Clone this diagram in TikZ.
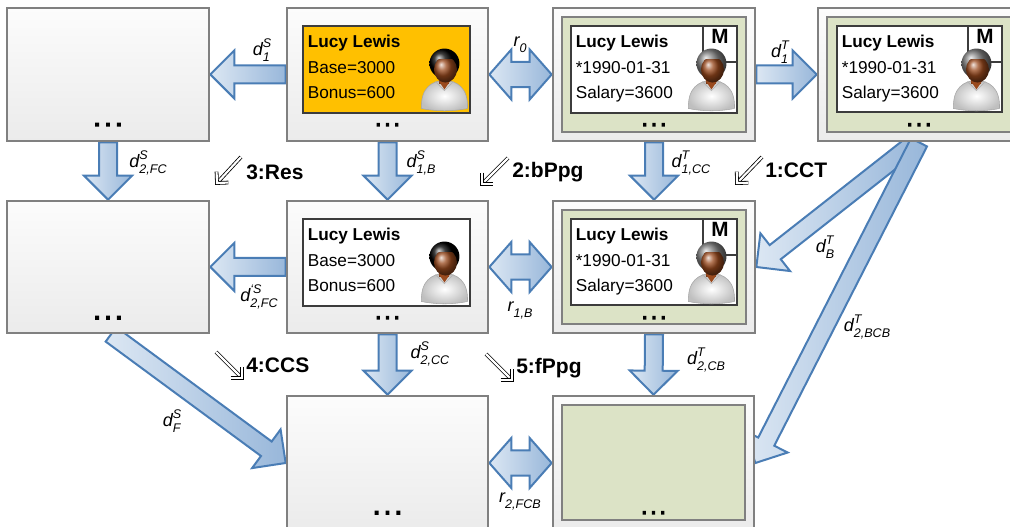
\documentclass[tikz,border=0pt]{standalone}
\usepackage{fontspec}
\setmainfont{Liberation Sans}
\newfontfamily\dotfont[FakeBold=12]{Liberation Sans}
\usetikzlibrary{calc,fit,backgrounds}

\definecolor{boxline}{HTML}{808080}
\definecolor{boxtop}{HTML}{FCFCFC}
\definecolor{boxbot}{HTML}{EBEBEB}
\definecolor{greenfill}{HTML}{DCE3C6}
\definecolor{panelline}{HTML}{3C3C3C}
\definecolor{orangefill}{HTML}{FFC000}
\definecolor{arlight}{HTML}{DCE7F3}
\definecolor{ardark}{HTML}{98B7DA}
\definecolor{arline}{HTML}{4A7DB5}
\definecolor{skin}{HTML}{9A4A1E}

% small font for indices of the arrow labels
\newcommand\lblsmall{\fontsize{9.4}{10}\selectfont}
% base letter with stacked superscript #2 and subscript #3
\newcommand\dlab[3]{#1\sbox0{\lblsmall #2}\sbox2{\lblsmall #3}%
  \raisebox{0.45em}{\usebox0}\kern-\wd0\raisebox{-0.33em}{\usebox2}%
  \ifdim\wd0>\wd2 \kern\dimexpr\wd0-\wd2\relax\fi}
% base letter with subscript only
\newcommand\rlab[2]{#1\raisebox{-0.33em}{\lblsmall #2}}
% heavy, widely spaced ellipsis
\newcommand\ddd[1]{.\kern#1.\kern#1.}

% one-headed block arrow from #1 to #2
\newcommand\blockarrow[2]{%
  \coordinate (bh) at ($(#2)!18pt!(#1)$);
  \path[blockarrow] ($(#1)!6.75pt!90:(#2)$) -- ($(bh)!6.75pt!90:(#2)$)
    -- ($(bh)!18pt!90:(#2)$) -- (#2) -- ($(bh)!18pt!-90:(#2)$)
    -- ($(bh)!6.75pt!-90:(#2)$) -- ($(#1)!6.75pt!-90:(#2)$) -- cycle;}
% two-headed block arrow between #1 and #2
\newcommand\dblockarrow[2]{%
  \coordinate (ha) at ($(#1)!16.5pt!(#2)$);
  \coordinate (hb) at ($(#2)!16.5pt!(#1)$);
  \path[blockarrow] (#1) -- ($(ha)!18.75pt!90:(#2)$) -- ($(ha)!9.4pt!90:(#2)$)
    -- ($(hb)!9.4pt!90:(#2)$) -- ($(hb)!18.75pt!90:(#2)$) -- (#2)
    -- ($(hb)!18.75pt!-90:(#2)$) -- ($(hb)!9.4pt!-90:(#2)$)
    -- ($(ha)!9.4pt!-90:(#2)$) -- ($(ha)!18.75pt!-90:(#2)$) -- cycle;}
% thin double-stroke step marker, tail #1, tip #2
\newcommand\stepmark[2]{%
  \draw[stepline, double] (#1) -- ($(#2)!3pt!(#1)$);
  \draw[stepline] ($(#2)!8.5pt!45:(#1)$) -- (#2) -- ($(#2)!8.5pt!-45:(#1)$);}

% person icon; #1 is the hair colour
\newcommand\personicon[1]{%
  \path[draw=gray!70, line width=0.4pt, inner color=white, outer color=gray!50]
    (-23,28) .. controls (-24,7) and (-12,0) .. (0,0)
    .. controls (12,0) and (24,7) .. (23,28)
    .. controls (8,31) and (-8,31) .. (-23,28) -- cycle;
  \fill[skin!80!black] (-5,-8) rectangle (5,3);
  \fill[skin] (-6,0) -- (0,9) -- (6,0) -- cycle;
  \draw[gray!60, line width=0.5pt] (-9,1) -- (0,10) -- (9,1);
  \shade[ball color=#1] (0,-17) circle[radius=15];
  \begin{scope}
    \clip (-20,-21) rectangle (20,5);
    \shade[ball color=skin] (1,-11) ellipse[x radius=11.5, y radius=13];
  \end{scope}}

\tikzset{
  person/.pic={\personicon{black}},
  mperson/.pic={\personicon{gray}},
  outerbox/.style={draw=boxline, line width=2pt, top color=boxtop, bottom color=boxbot, inner sep=0pt},
  greenbox/.style={draw=boxline, line width=1.5pt, fill=greenfill, inner sep=0pt},
  panel/.style={draw=panelline, line width=2.2pt, fill=white, inner sep=0pt},
  orangepanel/.style={panel, fill=orangefill},
  mbox/.style={draw=panelline, line width=1.6pt, fill=white, inner sep=0pt, font=\bfseries\fontsize{15.5}{15.5}\selectfont},
  ptext/.style={font=\fontsize{12.9}{14}\selectfont, inner sep=0pt, anchor=base west},
  dots/.style={font=\dotfont\fontsize{12}{12}\selectfont, inner sep=0pt, anchor=base},
  bigdots/.style={font=\dotfont\fontsize{13.5}{13.5}\selectfont, inner sep=0pt, anchor=base},
  steplab/.style={font=\bfseries\fontsize{15.75}{16}\selectfont, inner sep=0pt, anchor=west},
  stepline/.style={line width=0.6pt, black, double distance=1.6pt, line cap=butt},
  arrlab/.style={font=\itshape\fontsize{13.5}{14}\selectfont, inner sep=0pt},
  blockarrow/.style={draw=arline, line width=1.5pt, line join=miter, left color=arlight, right color=ardark},
}

\begin{document}
\begin{tikzpicture}[x=0.75pt, y=-0.75pt]
\useasboundingbox (0,0) rectangle (1010,527);

% ---------- outer frames ----------
\node[outerbox, fit={(7,8)(209,141)}] (A) {};
\node[outerbox, fit={(287,8)(488,141)}] (B) {};
\node[outerbox, fit={(553,8)(755,141)}] (C) {};
\node[outerbox, fit={(818,8)(1020,141)}] (D) {};
\node[outerbox, fit={(7,201)(209,333)}] (E) {};
\node[outerbox, fit={(287,201)(488,333)}] (F) {};
\node[outerbox, fit={(553,201)(755,333)}] (G) {};
\node[outerbox, fit={(287,396)(488,530)}] (H) {};
\node[outerbox, fit={(553,396)(754,530)}] (I) {};

% ---------- green inner frames ----------
\node[greenbox, fit={(562,17)(746,132)}] (Cg) {};
\node[greenbox, fit={(827,17)(1011,132)}] (Dg) {};
\node[greenbox, fit={(562,210)(746,324)}] (Gg) {};
\node[greenbox, fit={(562,405)(745,520)}] (Ig) {};

% ---------- dots ----------
\node[bigdots] (Adots) at ($(A.north)+(0,119)$) {\ddd{4.4pt}};
\node[dots] (Bdots) at ($(B.north)+(0,119)$) {\ddd{3.6pt}};
\node[dots] (Cdots) at ($(C.north)+(0,119)$) {\ddd{3.6pt}};
\node[dots] (Ddots) at ($(D.north)+(0,119)$) {\ddd{3.6pt}};
\node[bigdots] (Edots) at ($(E.north)+(0,119)$) {\ddd{4.4pt}};
\node[dots] (Fdots) at ($(F.north)+(0,119)$) {\ddd{3.6pt}};
\node[dots] (Gdots) at ($(G.north)+(0,119)$) {\ddd{3.6pt}};
\node[bigdots] (Hdots) at ($(H.north)+(0,119)$) {\ddd{4.4pt}};
\node[dots] (Idots) at ($(I.north)+(0,119)$) {\ddd{3.6pt}};

% ---------- source records ----------
\node[orangepanel, fit={(303,26)(470,113)}] (pB) {};
\node[ptext] (pB1) at ($(pB.north west)+(6,23)$) {\textbf{Lucy Lewis}};
\node[ptext] (pB2) at ($(pB.north west)+(6,49)$) {Base=3000};
\node[ptext] (pB3) at ($(pB.north west)+(6,74)$) {Bonus=600};
\pic at ($(pB.north east)+(-27,56)$) {person};

\node[panel, fit={(303,219)(470,306)}] (pF) {};
\node[ptext] (pF1) at ($(pF.north west)+(6,23)$) {\textbf{Lucy Lewis}};
\node[ptext] (pF2) at ($(pF.north west)+(6,49)$) {Base=3000};
\node[ptext] (pF3) at ($(pF.north west)+(6,74)$) {Bonus=600};
\pic at ($(pF.north east)+(-27,56)$) {person};

% ---------- target records ----------
\node[panel, fit={(571,26)(737,113)}] (pC) {};
\node[mbox, fit={(703,26)(737,62)}] (mC) {M};
\node[ptext] (pC1) at ($(pC.north west)+(6,23)$) {\textbf{Lucy Lewis}};
\node[ptext] (pC2) at ($(pC.north west)+(6,49)$) {*1990-01-31};
\node[ptext] (pC3) at ($(pC.north west)+(6,74)$) {Salary=3600};
\pic at ($(pC.north east)+(-27,56)$) {mperson};

\node[panel, fit={(837,26)(1002,112)}] (pD) {};
\node[mbox, fit={(968,26)(1002,62)}] (mD) {M};
\node[ptext] (pD1) at ($(pD.north west)+(6,23)$) {\textbf{Lucy Lewis}};
\node[ptext] (pD2) at ($(pD.north west)+(6,49)$) {*1990-01-31};
\node[ptext] (pD3) at ($(pD.north west)+(6,74)$) {Salary=3600};
\pic at ($(pD.north east)+(-27,56)$) {mperson};

\node[panel, fit={(571,219)(737,305)}] (pG) {};
\node[mbox, fit={(703,219)(737,255)}] (mG) {M};
\node[ptext] (pG1) at ($(pG.north west)+(6,23)$) {\textbf{Lucy Lewis}};
\node[ptext] (pG2) at ($(pG.north west)+(6,49)$) {*1990-01-31};
\node[ptext] (pG3) at ($(pG.north west)+(6,74)$) {Salary=3600};
\pic at ($(pG.north east)+(-27,56)$) {mperson};

% ---------- block arrows (under the frames) ----------
\coordinate (dBtail) at ($(D.south)+(-4,0)$);
\coordinate (dBCBtail) at ($(D.south)+(0,0)$);
\coordinate (dFtail) at ($(E.south)+(3,0)$);
\begin{pgfonlayer}{background}
  \blockarrow{B.west}{A.east}
  \dblockarrow{B.east}{C.west}
  \blockarrow{C.east}{D.west}
  \blockarrow{A.south}{E.north}
  \blockarrow{B.south}{F.north}
  \blockarrow{C.south}{G.north}
  \blockarrow{dBtail}{G.east}
  \blockarrow{dBCBtail}{I.east}
  \blockarrow{F.west}{E.east}
  \dblockarrow{F.east}{G.west}
  \blockarrow{dFtail}{H.west}
  \blockarrow{F.south}{H.north}
  \blockarrow{G.south}{I.north}
  \dblockarrow{H.east}{I.west}
\end{pgfonlayer}

% ---------- arrow labels ----------
\node[arrlab] (l1S) at (262,50) {\dlab{d}{S}{1}};
\node[arrlab] (lr0) at (520,45) {\rlab{r}{0}};
\node[arrlab] (l1T) at (780,52) {\dlab{d}{T}{1}};
\node[arrlab] (l2FCS) at (148,163) {\dlab{d}{S}{2,FC}};
\node[arrlab] (l1BS) at (421,163) {\dlab{d}{S}{1,B}};
\node[arrlab] (l1CCT) at (691,163) {\dlab{d}{T}{1,CC}};
\node[arrlab] (l2FCp) at (259,297) {\dlab{d}{‘S}{2,FC}};
\node[arrlab] (lr1B) at (520,310) {\rlab{r}{1,B}};
\node[arrlab] (lBT) at (825,247) {\dlab{d}{T}{B}};
\node[arrlab] (l2BCBT) at (867,327) {\dlab{d}{T}{2,BCB}};
\node[arrlab] (l2CCS) at (430,354) {\dlab{d}{S}{2,CC}};
\node[arrlab] (l2CBT) at (706,360) {\dlab{d}{T}{2,CB}};
\node[arrlab] (lFS) at (172,421) {\dlab{d}{S}{F}};
\node[arrlab] (lr2FCB) at (520,501) {\rlab{r}{2,FCB}};

% ---------- step markers ----------
\node[steplab] (s3) at (246,172) {3:Res};
\node[steplab] (s2) at (512,172) {2:bPpg};
\node[steplab] (s1) at (765,170) {1:CCT};
\node[steplab] (s4) at (246,365) {4:CCS};
\node[steplab] (s5) at (516,368) {5:fPpg};
\coordinate (s3tail) at (241,157); \coordinate (s3tip) at (217,183);
\coordinate (s2tail) at (508,158); \coordinate (s2tip) at (482,184);
\coordinate (s1tail) at (762,157); \coordinate (s1tip) at (737,183);
\coordinate (s4tail) at (216,352); \coordinate (s4tip) at (242,378);
\coordinate (s5tail) at (486,354); \coordinate (s5tip) at (512,380);
\stepmark{s3tail}{s3tip}
\stepmark{s2tail}{s2tip}
\stepmark{s1tail}{s1tip}
\stepmark{s4tail}{s4tip}
\stepmark{s5tail}{s5tip}
\end{tikzpicture}
\end{document}
